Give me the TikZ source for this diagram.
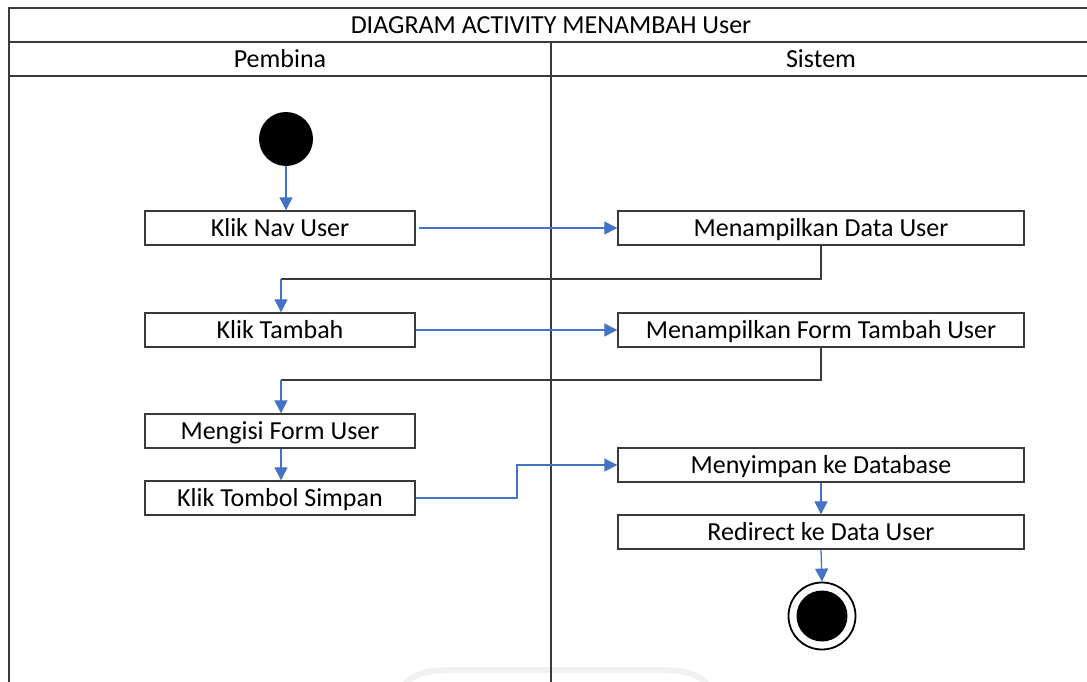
\documentclass[tikz,border=0pt]{standalone}
\usepackage{fontspec}
\setmainfont{Carlito}
\usetikzlibrary{arrows.meta,positioning}
\definecolor{flowblue}{HTML}{4472C4}
\definecolor{framegray}{HTML}{3A3A3A}
\begin{document}
\begin{tikzpicture}[x=1pt,y=-1pt,
  every node/.style={font=\fontsize{26}{30}\selectfont,text height=16.7pt,text depth=0pt},
  act/.style={draw=framegray,line width=1.4pt,fill=white,inner sep=0pt},
  actL/.style={act,minimum width=270pt,minimum height=34pt},
  actR/.style={act,minimum width=406pt,minimum height=34pt},
  flow/.style={draw=flowblue,line width=1.3pt,-{Triangle[length=13pt,width=13pt]}},
  ret/.style={draw=framegray,line width=1.3pt},
  lane/.style={draw=framegray,line width=1.6pt}]
\useasboundingbox (0,0) rectangle (1087,682);

% faint ring at the foot of the page
\draw[gray!11,line width=6pt] (404,685) .. controls (418,671) and (430,670) .. (460,670)
  -- (650,670) .. controls (682,670) and (694,671) .. (708,685);

% swimlane frame
\draw[lane] (9,682) -- (9,8) -- (1087,8);
\draw[lane] (9,42) -- (1087,42);
\draw[lane] (9,76) -- (1087,76);
\draw[lane] (551,42) -- (551,682);
\node (title) at (551,25) {DIAGRAM ACTIVITY MENAMBAH User};
\node (laneA) at (280,59) {Pembina};
\node (laneB) at (821,59) {Sistem};

% initial and final states
\node[circle,fill=black,minimum size=54pt,inner sep=0pt] (start) at (286,139) {};
\node[circle,draw=black,line width=1.8pt,minimum size=67pt,inner sep=0pt] (stop) at (822,616) {};
\node[circle,fill=black,minimum size=51pt,inner sep=0pt] at (stop) {};

% activities
\node[actL] (nav) at (280,228) {Klik Nav User};
\node[actR] (data) at (821,228) {Menampilkan Data User};
\node[actL] (tambah) at (280,330) {Klik Tambah};
\node[actR] (form) at (821,330) {Menampilkan Form Tambah User};
\node[actL] (isi) at (280,431) {Mengisi Form User};
\node[actL] (simpan) at (280,498) {Klik Tombol Simpan};
\node[actR] (db) at (821,465) {Menyimpan ke Database};
\node[actR] (redir) at (821,532) {Redirect ke Data User};

% bends of the connectors
\coordinate (r1) at (281,279);
\coordinate (r2) at (281,380);
\coordinate (k) at (517,465);

% transitions
\draw[flow] (start.south) -- (start.south |- nav.north);
\draw[flow] ([xshift=3pt]nav.east) -- (data.west);
\draw[ret] (data.south) |- (r1);
\draw[flow] (r1) -- (r1 |- tambah.north);
\draw[flow] (tambah.east) -- (form.west);
\draw[ret] (form.south) |- (r2);
\draw[flow] (r2) -- (r2 |- isi.north);
\draw[flow] (isi.south -| r2) -- (simpan.north -| r2);
\draw[flow] (simpan.east) -| (k) -- (db.west);
\draw[flow] (db.south) -- (redir.north);
\draw[flow] (redir.south) -- (stop.north);
\end{tikzpicture}
\end{document}
